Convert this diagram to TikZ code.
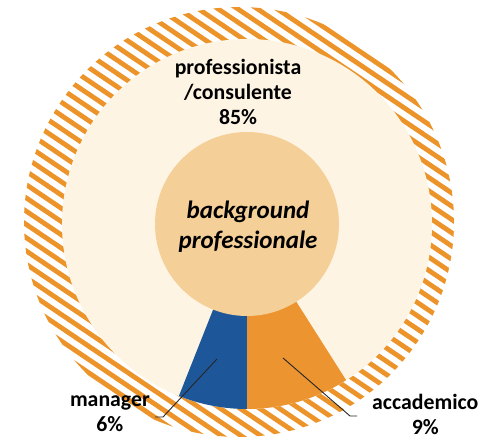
\documentclass[tikz,border=0pt]{standalone}
\usepackage{fontspec}
\setmainfont{Carlito}
\definecolor{stripeor}{RGB}{236,148,42}
\definecolor{sliceor}{RGB}{235,148,48}
\definecolor{slicebl}{RGB}{30,87,153}
\definecolor{creamc}{RGB}{253,244,228}
\definecolor{tanc}{RGB}{245,207,152}
\tikzset{
  lbl/.style={font=\fontsize{21.8}{25}\selectfont\bfseries, align=center, inner sep=0pt, text=black},
  leader/.style={draw=black!85, line width=0.9pt},
  hub/.style={circle, fill=tanc, minimum size=184pt, inner sep=0pt}
}
\begin{document}
\begin{tikzpicture}[x=1pt,y=1pt]
\useasboundingbox (0,0) rectangle (481,439);
% striped outer ring
\begin{scope}
  \clip (239,217) circle (215);
  \begin{scope}[shift={(239,217)}, rotate=-34]
    \foreach \k in {-24,...,24}
      \draw[stripeor, line width=4.8pt] (-260,\k*11) -- (260,\k*11);
  \end{scope}
\end{scope}
% cream disk (professionista/consulente)
\fill[creamc] (247,215) circle (185);
% slices
\fill[slicebl] (247,215) -- ++(-111.6:185pt) arc[start angle=-111.6, end angle=-90, radius=185pt] -- cycle;
\fill[sliceor] (247,215) -- ++(-90:185pt) arc[start angle=-90, end angle=-57.6, radius=185pt] -- cycle;
% hub
\node[hub] (hub) at (247,215) {};
\node[font=\fontsize{25}{30}\selectfont\bfseries\itshape, align=center, inner sep=0pt] (hubtxt) at (248,212) {background\\professionale};
% labels
\node[lbl] (prof) at (238,347) {professionista\\/consulente\\85\%};
\node[lbl, anchor=east] (mgr) at (150,25) {manager\\6\%};
\node[lbl, anchor=west] (acc) at (372,25) {accademico\\9\%};
% leaders
\coordinate (mgrin) at (217,80);
\coordinate (mgrbend) at (163,22);
\coordinate (mgrend) at (155,22);
\coordinate (accin) at (283,81);
\coordinate (accbend) at (350,23);
\coordinate (accend) at (357,23);
\draw[leader] (mgrin) -- (mgrbend) -- (mgrend);
\draw[leader] (accin) -- (accbend) -- (accend);
\end{tikzpicture}
\end{document}
